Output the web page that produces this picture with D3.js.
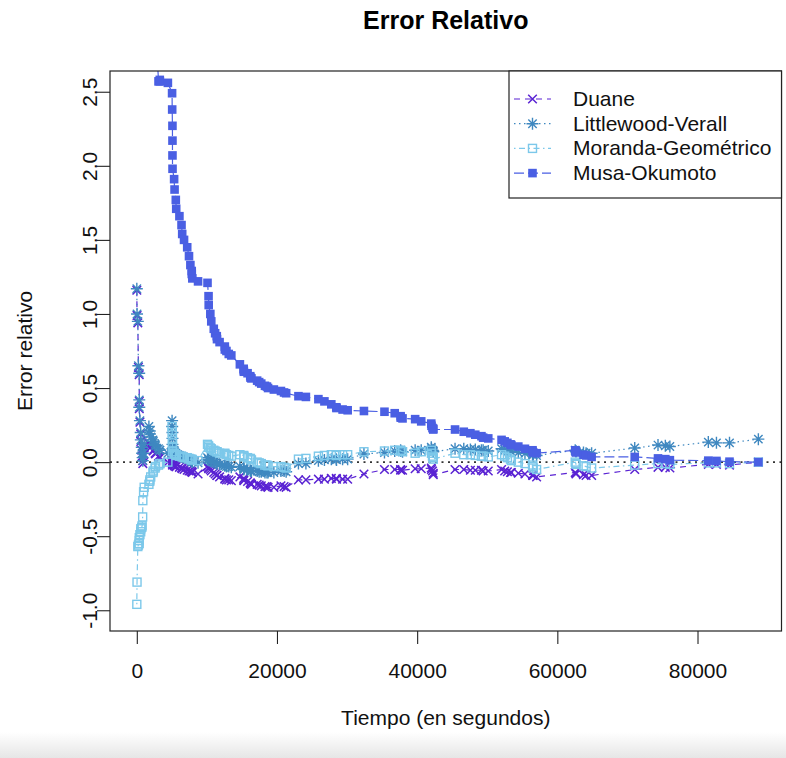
<!DOCTYPE html>
<html><head><meta charset="utf-8">
<script src="https://cdn.jsdelivr.net/npm/d3@7"></script>
<style>body{margin:0;background:#fff;} svg{display:block;font-family:"Liberation Sans",Arial,Helvetica,sans-serif;}</style>
</head><body><svg id="c" width="786" height="758"></svg>
<script>
// ---- data ----
const times = [3,33,146,227,342,351,353,444,556,571,
709,759,836,860,968,1056,1726,1846,1872,1986,
2311,2366,2608,2676,3098,3278,3288,4434,5034,5049,
5085,5089,5089,5097,5324,5389,5565,5623,6080,6380,
6477,6740,7192,7447,7644,7837,7843,7922,8738,10089,
10237,10258,10491,10625,10982,11175,11411,11442,11811,12559,
12559,12791,13121,13486,14708,15251,15261,15277,15806,16185,
16229,16358,17168,17458,17758,18287,18568,18728,19556,20567,
21012,21308,23063,24127,25910,26770,27753,28460,28493,29361,
30085,32408,35338,36799,37642,37654,37915,39715,40580,42015,
42045,42188,42296,42296,45406,46653,47596,48296,49171,49416,
50145,52042,52489,52875,53321,53443,54433,55381,56463,56485,
56560,57042,62551,62651,62661,63732,64103,64893,71043,74364,
75409,76057,81542,82702,84566,88682];

const duane = [1.16,0.99,0.94,0.64,0.59,0.41,0.36,0.27,0.19,0.14,
0.08,0.04,0.01,-0.01,0.05,0.10,0.13,0.12,0.11,0.10,
0.08,0.075,0.06,0.055,0.04,0.035,0.03,0.0,0.05,0.03,
0.01,0.0,-0.01,-0.02,-0.02,-0.025,-0.03,-0.03,-0.035,-0.04,
-0.045,-0.05,-0.055,-0.06,-0.06,-0.065,-0.065,-0.07,-0.08,-0.03,
-0.04,-0.045,-0.05,-0.06,-0.07,-0.08,-0.09,-0.09,-0.10,-0.11,
-0.115,-0.12,-0.12,-0.125,-0.10,-0.11,-0.12,-0.125,-0.13,-0.14,
-0.145,-0.15,-0.15,-0.155,-0.16,-0.165,-0.165,-0.17,-0.17,-0.16,
-0.165,-0.17,-0.12,-0.12,-0.115,-0.115,-0.11,-0.11,-0.115,-0.115,
-0.115,-0.08,-0.05,-0.05,-0.05,-0.055,-0.055,-0.045,-0.045,-0.04,
-0.05,-0.06,-0.075,-0.085,-0.05,-0.05,-0.055,-0.055,-0.055,-0.06,
-0.06,-0.05,-0.06,-0.065,-0.07,-0.07,-0.075,-0.08,-0.085,-0.09,
-0.09,-0.10,-0.07,-0.075,-0.08,-0.085,-0.09,-0.09,-0.05,-0.035,
-0.035,-0.04,-0.015,-0.015,-0.02,0.0];

const littlewood = [1.17,1.00,0.95,0.65,0.60,0.42,0.37,0.28,0.20,0.15,
0.10,0.06,0.03,0.01,0.06,0.12,0.24,0.21,0.19,0.17,
0.15,0.14,0.12,0.11,0.09,0.08,0.08,0.06,0.28,0.24,
0.20,0.16,0.12,0.09,0.08,0.07,0.06,0.05,0.045,0.04,
0.035,0.03,0.025,0.02,0.015,0.01,0.005,0.0,-0.005,0.03,
0.02,0.015,0.01,0.005,0.0,-0.005,-0.01,-0.01,-0.015,-0.02,
-0.025,-0.03,-0.03,-0.035,-0.03,-0.04,-0.045,-0.05,-0.05,-0.055,
-0.06,-0.06,-0.06,-0.065,-0.065,-0.07,-0.07,-0.07,-0.07,-0.06,
-0.06,-0.065,-0.01,-0.01,0.01,0.015,0.02,0.02,0.015,0.02,
0.02,0.055,0.065,0.075,0.08,0.075,0.07,0.08,0.08,0.10,
0.09,0.08,0.075,0.07,0.09,0.09,0.085,0.085,0.08,0.08,
0.075,0.09,0.085,0.08,0.075,0.07,0.065,0.06,0.055,0.05,
0.05,0.045,0.08,0.075,0.07,0.065,0.06,0.06,0.095,0.115,
0.11,0.105,0.135,0.13,0.13,0.155];

const moranda = [-0.96,-0.81,-0.57,-0.56,-0.55,-0.53,-0.51,-0.49,-0.47,-0.45,
-0.44,-0.43,-0.37,-0.26,-0.20,-0.17,-0.15,-0.13,-0.12,-0.10,
-0.07,-0.06,-0.04,-0.03,-0.02,-0.01,-0.01,0.0,0.24,0.20,
0.16,0.13,0.10,0.07,0.06,0.055,0.05,0.045,0.04,0.04,
0.035,0.03,0.03,0.025,0.02,0.02,0.015,0.015,0.01,0.12,
0.11,0.10,0.095,0.09,0.08,0.075,0.07,0.07,0.06,0.06,
0.055,0.05,0.045,0.04,0.05,0.045,0.04,0.035,0.03,0.025,
0.02,0.015,0.0,-0.005,-0.01,-0.02,-0.02,-0.025,-0.03,-0.03,
-0.035,-0.04,0.02,0.025,0.04,0.045,0.05,0.05,0.045,0.05,
0.05,0.07,0.075,0.08,0.08,0.075,0.07,0.06,0.07,0.08,
0.06,0.04,0.03,0.02,0.06,0.05,0.05,0.045,0.04,0.04,
0.035,0.05,0.04,0.03,0.02,0.01,0.0,-0.01,-0.02,-0.03,
-0.04,-0.05,0.0,-0.01,-0.015,-0.025,-0.03,-0.04,-0.02,-0.01,
-0.01,-0.015,-0.005,-0.005,-0.01,0.0];

const musa = [null,null,null,null,null,null,null,null,null,null,
null,null,null,null,null,null,null,null,null,null,
null,null,null,2.95,2.57,2.58,2.57,2.56,2.49,2.38,
2.27,2.17,2.07,1.98,1.91,1.84,1.77,1.71,1.66,1.60,
1.54,1.50,1.45,1.39,1.33,1.29,1.27,1.24,1.22,1.21,
1.12,1.06,1.00,0.95,0.90,0.87,0.85,0.83,0.81,0.78,
0.76,0.75,0.73,0.72,0.66,0.63,0.62,0.61,0.60,0.58,
0.57,0.565,0.55,0.54,0.53,0.515,0.51,0.50,0.49,0.48,
0.47,0.465,0.445,0.44,0.425,0.41,0.39,0.37,0.365,0.355,
0.35,0.345,0.34,0.33,0.31,0.30,0.295,0.29,0.275,0.26,
0.245,0.23,0.225,0.22,0.22,0.205,0.195,0.185,0.175,0.165,
0.16,0.15,0.14,0.13,0.12,0.115,0.105,0.09,0.08,0.07,
0.065,0.06,0.08,0.07,0.065,0.05,0.045,0.035,0.035,0.025,
0.02,0.013,0.01,0.008,0.003,0.0];

const seriesNames = ["Duane","Littlewood-Verall","Moranda-Geométrico","Musa-Okumoto"];
const xTicks = [0,20000,40000,60000,80000];
const xTickLabels = ["0","20000","40000","60000","80000"];
const yTicks = [-1.0,-0.5,0.0,0.5,1.0,1.5,2.0,2.5];
const yTickLabels = ["-1.0","-0.5","0.0","0.5","1.0","1.5","2.0","2.5"];

// ---- layout ----
const svg = d3.select("#c");
const box = {l:110, r:781.5, t:71, b:631};
const x = d3.scaleLinear().domain([-3824, 91984]).range([box.l, box.r]);
const y = d3.scaleLinear().domain([-1.14, 2.64]).range([box.b, box.t]);
const FS = 21;

const styles = [
  {values:duane, color:"#5a23d3", dash:"6,5", shape:"x"},
  {values:littlewood, color:"#3f88c0", dash:"1.5,3.5", shape:"star"},
  {values:moranda, color:"#7cc8ea", dash:"1.5,3.5,6,3.5", shape:"sq"},
  {values:musa, color:"#4a5fe3", dash:"10,4", shape:"fsq"}
];

// bottom fade
const defs = svg.append("defs");
const grad = defs.append("linearGradient").attr("id","fade").attr("x1",0).attr("y1",0).attr("x2",0).attr("y2",1);
grad.append("stop").attr("offset","0").attr("stop-color","#ffffff");
grad.append("stop").attr("offset","1").attr("stop-color","#e6e6e6");
svg.append("rect").attr("x",0).attr("y",732).attr("width",786).attr("height",26).attr("fill","url(#fade)");

defs.append("clipPath").attr("id","clip").append("rect")
  .attr("x",box.l).attr("y",box.t).attr("width",box.r-box.l).attr("height",box.b-box.t);

function marker(g, shape, color){
  if(shape==="x"){
    g.append("path").attr("d","M-4.3,-4.3L4.3,4.3M-4.3,4.3L4.3,-4.3").attr("stroke",color).attr("stroke-width",1.5).attr("fill","none");
  } else if(shape==="star"){
    g.append("path").attr("d","M-4.2,-4.2L4.2,4.2M-4.2,4.2L4.2,-4.2M0,-6L0,6M-6,0L6,0").attr("stroke",color).attr("stroke-width",1.4).attr("fill","none");
  } else if(shape==="sq"){
    g.append("rect").attr("x",-4).attr("y",-4).attr("width",8).attr("height",8).attr("stroke",color).attr("stroke-width",1.4).attr("fill","none");
  } else {
    g.append("rect").attr("x",-4.3).attr("y",-4.3).attr("width",8.6).attr("height",8.6).attr("fill",color);
  }
}

// zero line
svg.append("line").attr("x1",box.l).attr("x2",box.r).attr("y1",y(0)).attr("y2",y(0))
  .attr("stroke","#333").attr("stroke-width",1.8).attr("stroke-dasharray","2,4.5");

const plot = svg.append("g").attr("clip-path","url(#clip)");
styles.forEach(s=>{
  const pts = times.map((t,i)=>({t, v:s.values[i]}));
  const line = d3.line().defined(d=>d.v!=null).x(d=>x(d.t)).y(d=>y(d.v));
  plot.append("path").attr("d",line(pts)).attr("fill","none").attr("stroke",s.color)
    .attr("stroke-width",1.2).attr("stroke-dasharray",s.dash);
  pts.filter(d=>d.v!=null).forEach(d=>{
    const g = plot.append("g").attr("transform",`translate(${x(d.t)},${y(d.v)})`);
    marker(g, s.shape, s.color);
  });
});

// box
svg.append("rect").attr("x",box.l).attr("y",box.t).attr("width",box.r-box.l).attr("height",box.b-box.t)
  .attr("fill","none").attr("stroke","#222").attr("stroke-width",1.2);

// axes
const xAxis = d3.axisBottom(x).tickValues(xTicks).tickSize(13)
  .tickFormat((d,i)=>xTickLabels[i]);
const gx = svg.append("g").attr("transform",`translate(0,${box.b})`).call(xAxis);
gx.select(".domain").remove();
gx.selectAll(".tick line").attr("stroke","#222").attr("stroke-width",1.1);
gx.selectAll(".tick text").attr("font-size",FS).attr("fill","#111")
  .attr("font-family","Liberation Sans, Arial, sans-serif")
  .attr("y",47).attr("dy",0);

const yAxis = d3.axisLeft(y).tickValues(yTicks).tickSize(13).tickFormat((d,i)=>yTickLabels[i]);
const gy = svg.append("g").attr("transform",`translate(${box.l},0)`).call(yAxis);
gy.select(".domain").remove();
gy.selectAll(".tick line").attr("stroke","#222").attr("stroke-width",1.1);
gy.selectAll(".tick text").attr("font-size",FS).attr("fill","#111")
  .attr("font-family","Liberation Sans, Arial, sans-serif")
  .attr("x",0).attr("dy",0).attr("text-anchor","middle")
  .attr("transform","translate(-13,0) rotate(-90)");

// titles
svg.append("text").attr("x",(box.l+box.r)/2).attr("y",29).attr("text-anchor","middle")
  .attr("font-size",25).attr("font-weight","bold").attr("fill","#000").text("Error Relativo");
svg.append("text").attr("x",(box.l+box.r)/2).attr("y",725).attr("text-anchor","middle")
  .attr("font-size",FS).attr("fill","#111").text("Tiempo (en segundos)");
svg.append("text").attr("transform",`translate(32,${(box.t+box.b)/2}) rotate(-90)`).attr("text-anchor","middle")
  .attr("font-size",FS).attr("fill","#111").text("Error relativo");

// legend
const lg = svg.append("g");
lg.append("rect").attr("x",509).attr("y",box.t).attr("width",box.r-509).attr("height",127)
  .attr("fill","#fff").attr("stroke","#222").attr("stroke-width",1.2);
styles.forEach((s,i)=>{
  const cy = 99 + i*24.7;
  lg.append("line").attr("x1",514).attr("x2",551).attr("y1",cy).attr("y2",cy)
    .attr("stroke",s.color).attr("stroke-width",1.2).attr("stroke-dasharray",s.dash);
  const g = lg.append("g").attr("transform",`translate(532.5,${cy})`);
  marker(g, s.shape, s.color);
  lg.append("text").attr("x",573).attr("y",cy+7).attr("font-size",FS).attr("fill","#111").text(seriesNames[i]);
});
</script>
</body></html>
